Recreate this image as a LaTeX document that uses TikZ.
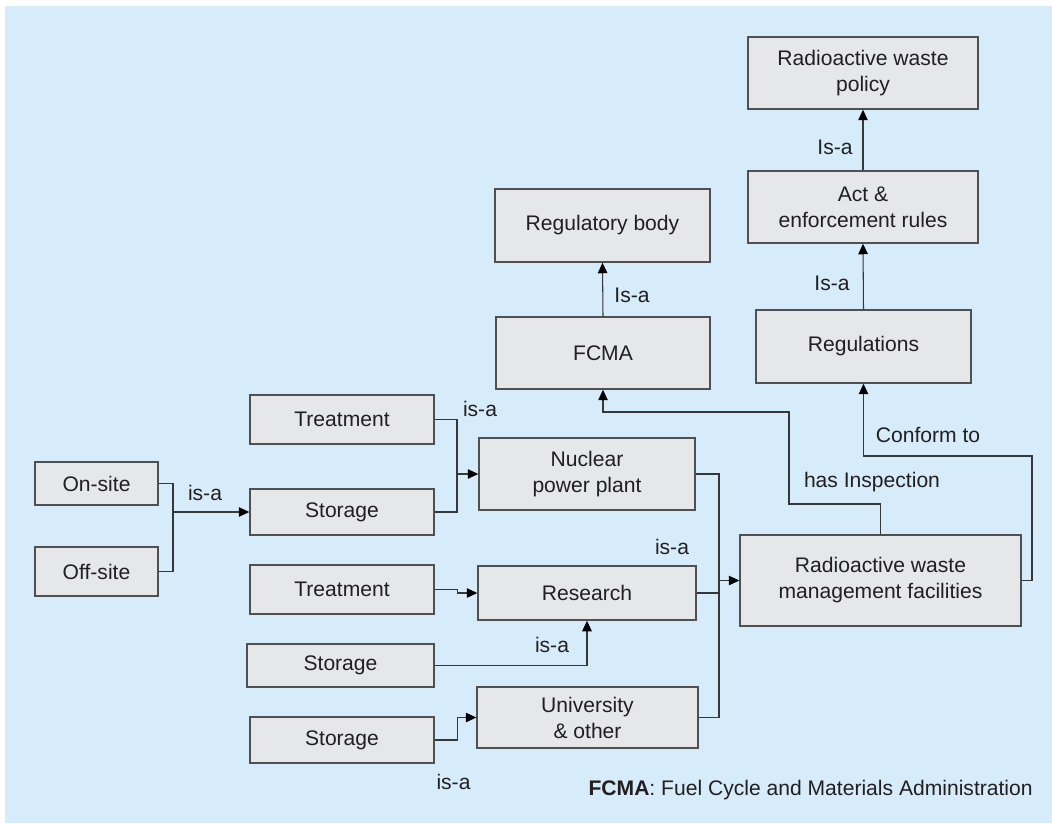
\documentclass[tikz,border=0pt]{standalone}
\usepackage{fontspec}
\setmainfont{Liberation Sans}
\usetikzlibrary{arrows.meta}
\definecolor{bgblue}{RGB}{214,236,250}
\definecolor{boxgray}{RGB}{230,231,232}
\definecolor{framegray}{RGB}{80,80,82}
\definecolor{wiregray}{RGB}{55,55,57}
\definecolor{inkgray}{RGB}{35,31,32}

\begin{document}
\begin{tikzpicture}[x=0.02cm, y=0.02cm,
	box/.style 2 args={draw=framegray, line width=0.8pt, fill=boxgray, minimum width=#1, minimum height=#2, align=center},
	wire/.style={draw=wiregray, line width=0.6pt},
	arr/.style={wire, -{Triangle[length=6pt, width=5.4pt, color=black]}}]
				\tikzstyle{every node}+=[inner sep=0pt, text=inkgray, font=\fontsize{12}{14.8}\selectfont]
				\useasboundingbox (0,0) rectangle (1052,-823);
				\fill [bgblue] (5,-6) rectangle (1052,-823);
				% boxes
				\node [box={2.46cm}{0.86cm}] (onsite) at (96.5,-483.5) {On-site};
				\node [box={2.46cm}{0.98cm}] (offsite) at (96.5,-571.5) {Off-site};
				\node [box={3.68cm}{0.98cm}] (treat1) at (342,-419.5) {Treatment};
				\node [box={3.68cm}{0.92cm}] (store1) at (342,-512) {Storage};
				\node [box={3.68cm}{0.98cm}] (treat2) at (342,-589.5) {Treatment};
				\node [box={3.74cm}{0.86cm}] (store2) at (340.5,-665.5) {Storage};
				\node [box={3.68cm}{0.92cm}] (store3) at (342,-740) {Storage};
				\node [box={4.32cm}{1.44cm}] (npp) at (587,-474) {Nuclear\\power plant};
				\node [box={4.36cm}{1.08cm}] (research) at (587,-593) {Research};
				\node [box={4.42cm}{1.22cm}] (univ) at (587.5,-717.5) {University\\\& other};
				\node [box={5.62cm}{1.82cm}] (rwmf) at (880.5,-580.5) {Radioactive waste\\management facilities};
				\node [box={4.28cm}{1.44cm}] (fcma) at (603,-353) {FCMA};
				\node [box={4.30cm}{1.46cm}] (regbody) at (602.5,-225.5) {Regulatory body};
				\node [box={4.30cm}{1.46cm}] (regs) at (863.5,-346.5) {Regulations};
				\node [box={4.60cm}{1.44cm}] (act) at (863,-207) {Act \&\\enforcement rules};
				\node [box={4.60cm}{1.44cm}] (policy) at (863,-73) {Radioactive waste\\policy};
				% bends
				\coordinate (site) at (173,-512);
				\coordinate (plant) at (457,-474);
				\coordinate (merge) at (719,-580.5);
				\coordinate (insp1) at (789,-504);
				\coordinate (insp2) at (789,-412);
				\coordinate (conf) at (1032,-456);
				% connectors
				\draw [wire] (onsite.east) -| (site);
				\draw [wire] (offsite.east) -| (site);
				\draw [arr] (site) -- (store1.west);
				\draw [wire] (treat1.east) -| (plant);
				\draw [wire] (store1.east) -| (plant);
				\draw [arr] (plant) -- (npp.west);
				\draw [arr] (treat2.east) -- ++(23,0) |- (research.west);
				\draw [arr] (store2.east) -| (research.south);
				\draw [arr] (store3.east) -- ++(23,0) |- (univ.west);
				\draw [wire] (npp.east) -| (merge);
				\draw [wire] (research.east) -| (merge);
				\draw [wire] (univ.east) -| (merge);
				\draw [arr] (merge) -- (rwmf.west);
				\draw [arr] (rwmf.north) |- (insp1) -- (insp2) -| (fcma.south);
				\draw [arr] (rwmf.east) -| (conf) -| (regs.south);
				\draw [arr] (fcma.north) -- (regbody.south);
				\draw [arr] (regs.north) -- (act.south);
				\draw [arr] (act.north) -- (policy.south);
				% labels
				\node (isa1) at (205,-493) {is-a};
				\node (isa2) at (480,-409) {is-a};
				\node (isa3) at (672,-547) {is-a};
				\node (isa4) at (552,-645) {is-a};
				\node (isa5) at (453.5,-782) {is-a};
				\node (isa6) at (632,-295) {Is-a};
				\node (isa7) at (832,-283) {Is-a};
				\node (isa8) at (835,-147) {Is-a};
				\node (inspect) at (872,-482) {has Inspection};
				\node (conform) at (928,-435) {Conform to};
				\node [anchor=east] (note) at (1033,-790) {\textbf{FCMA}: Fuel Cycle and Materials Administration};
			\end{tikzpicture}
\end{document}
